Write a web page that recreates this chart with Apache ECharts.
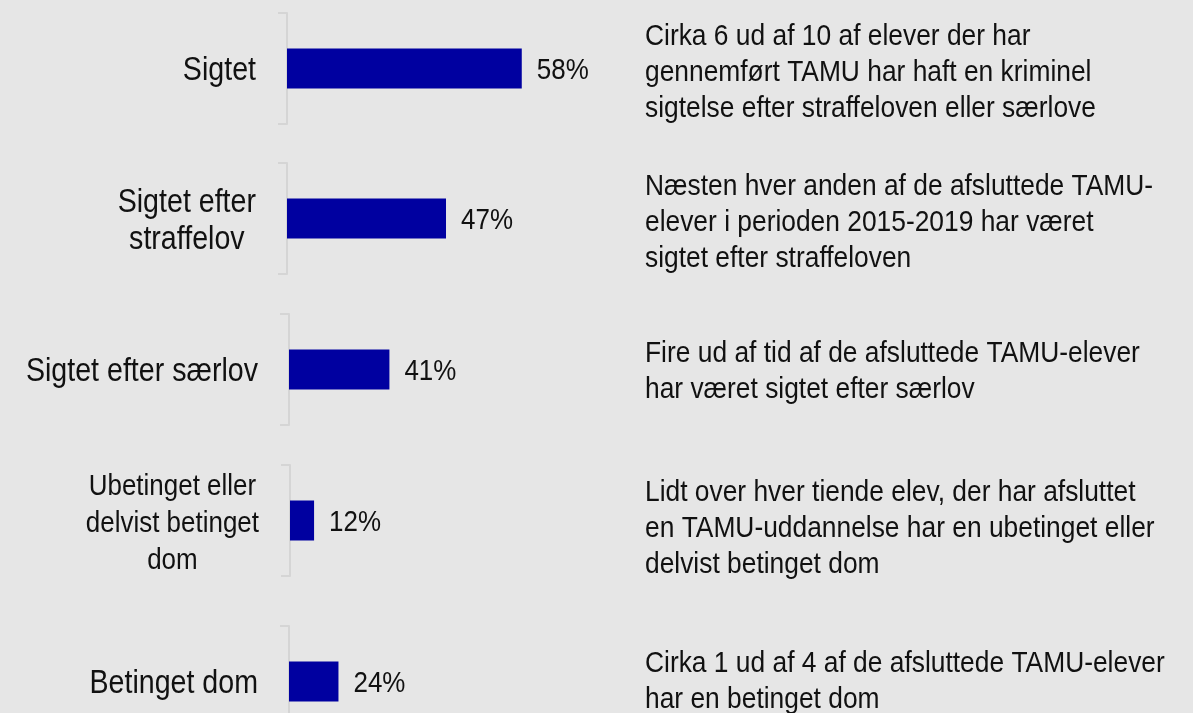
<!DOCTYPE html>
<html>
<head>
<meta charset="utf-8">
<script src="https://cdn.jsdelivr.net/npm/echarts@6/dist/echarts.min.js"></script>
<style>
  html, body { margin: 0; padding: 0; background: #e6e6e6; }
  #chart { width: 1193px; height: 713px; }
</style>
</head>
<body>
<div id="chart"></div>
<script>
// data
const categories = [
  'Sigtet',
  'Sigtet efter\nstraffelov',
  'Sigtet efter særlov',
  'Ubetinget eller\ndelvist betinget\ndom',
  'Betinget dom'
]
const values = [58, 47, 41, 12, 24]
const notes = [
  'Cirka 6 ud af 10 af elever der har\ngennemført TAMU har haft en kriminel\nsigtelse efter straffeloven eller særlove',
  'Næsten hver anden af de afsluttede TAMU-\nelever i perioden 2015-2019 har været\nsigtet efter straffeloven',
  'Fire ud af tid af de afsluttede TAMU-elever\nhar været sigtet efter særlov',
  'Lidt over hver tiende elev, der har afsluttet\nen TAMU-uddannelse har en ubetinget eller\ndelvist betinget dom',
  'Cirka 1 ud af 4 af de afsluttede TAMU-elever\nhar en betinget dom'
]
// every small chart has its own scale
const axisMax = [84, 100.5, 138, 168, 164]

// layout
const lefts = [287, 287, 289, 290, 289]
const tops = [13, 163, 314, 465, 626]
const rowHeight = 111
const gridRight = 566
const notesX = 645
const notesShift = [4, 4, 2, 8, 0]
const labelSize = [32.5, 32.5, 32.5, 29.5, 32.5]

// no narrow font installed, so Liberation Sans squeezed a little
const font = '"Liberation Sans", Arial, sans-serif'
const squeeze = 0.88
const textColor = '#111'

const grid = [], xAxis = [], yAxis = [], series = []
categories.forEach((cat, i) => {
  grid.push({ left: lefts[i], right: gridRight, top: tops[i], height: rowHeight, outerBoundsMode: 'none', containLabel: false })
  xAxis.push({ type: 'value', gridIndex: i, min: 0, max: axisMax[i], show: false })
  yAxis.push({
    type: 'category',
    gridIndex: i,
    data: [cat],
    axisLine: { show: true, lineStyle: { color: '#d5d5d5', width: 2 } },
    axisTick: { show: true, length: 9, lineStyle: { color: '#d5d5d5', width: 2 } },
    axisLabel: { show: false }
  })
  series.push({
    type: 'bar',
    xAxisIndex: i,
    yAxisIndex: i,
    data: [values[i]],
    barWidth: 40,
    itemStyle: { color: '#0000a0' },
    silent: true
  })
})

const chart = echarts.init(document.getElementById('chart'))
chart.setOption({
  backgroundColor: '#e6e6e6',
  animation: false,
  grid,
  xAxis,
  yAxis,
  series
})

// texts placed from the axes' own pixel positions
const graphic = []
categories.forEach((cat, i) => {
  const [x0, yc] = chart.convertToPixel({ gridIndex: i }, [0, cat])
  const [xEnd] = chart.convertToPixel({ gridIndex: i }, [values[i], cat])
  graphic.push({
    type: 'text',
    x: x0 - 31,
    y: yc + 3,
    scaleX: squeeze,
    silent: true,
    style: {
      text: cat.split('\n').map((l) => '{c|' + l + '}').join('\n'),
      align: 'right',
      verticalAlign: 'middle',
      rich: {
        c: { align: 'center', fontFamily: font, fontSize: labelSize[i], lineHeight: 37, fill: textColor }
      }
    }
  })
  graphic.push({
    type: 'text',
    x: xEnd + 15,
    y: yc + 2,
    scaleX: squeeze,
    silent: true,
    style: {
      text: values[i] + '%',
      align: 'left',
      verticalAlign: 'middle',
      fontFamily: font,
      fontSize: 29.5,
      fill: textColor
    }
  })
  graphic.push({
    type: 'text',
    x: notesX,
    y: yc + notesShift[i],
    scaleX: 0.9,
    silent: true,
    style: {
      text: notes[i],
      align: 'left',
      verticalAlign: 'middle',
      fontFamily: font,
      fontSize: 29.3,
      lineHeight: 36,
      fill: textColor
    }
  })
})
chart.setOption({ graphic })
</script>
</body>
</html>
